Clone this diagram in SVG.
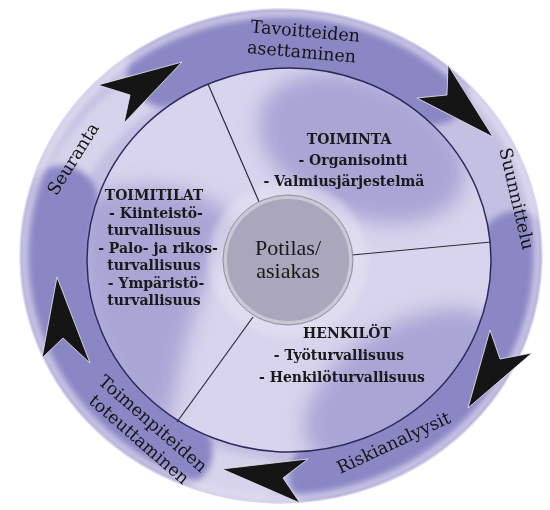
<svg xmlns="http://www.w3.org/2000/svg" width="550" height="510" viewBox="0 0 550 510">
<style>
  .ring-label { font-family: "DejaVu Serif", "Liberation Serif", serif; font-size: 17.5px; fill: #141414; text-anchor: middle; }
  .sector { font-family: "DejaVu Serif", "Liberation Serif", serif; font-size: 14px; font-weight: bold; fill: #1a1a1a; text-anchor: middle; }
  .center-text { font-family: "Liberation Serif", "Times New Roman", serif; font-size: 22px; fill: #1a1a1a; text-anchor: middle; }
  .arrow { fill: #151515; stroke: #ecebf6; stroke-width: 0.8; stroke-linejoin: miter; }
  .spoke { stroke: #2b2b36; stroke-width: 1.2; fill: none; }
  .band { fill: none; stroke: #8b87c5; stroke-width: 72; stroke-linecap: round; }
  .lightband { fill: none; stroke: #d6d3ec; stroke-width: 40; stroke-linecap: round; }
  .blob { fill: #a9a5d5; }
</style>
<defs>
  <clipPath id="ringClip">
    <path clip-rule="evenodd" d="M 20 256 A 261 247 0 1 0 542 256 A 261 247 0 1 0 20 256 Z M 87 260 A 202 192 0 1 0 491 260 A 202 192 0 1 0 87 260 Z"/>
  </clipPath>
  <clipPath id="diskClip">
    <ellipse cx="289" cy="260" rx="202" ry="192"/>
  </clipPath>
  <filter id="soft" x="-40%" y="-40%" width="180%" height="180%">
    <feGaussianBlur stdDeviation="10"/>
  </filter>
  <filter id="soft2" x="-30%" y="-30%" width="160%" height="160%">
    <feGaussianBlur stdDeviation="3"/>
  </filter>
</defs>
<rect width="550" height="510" fill="#ffffff"/>

<g id="wheel">
  <ellipse cx="281" cy="256" rx="261" ry="247" fill="#c4c0e2"/>
  <g clip-path="url(#ringClip)">
    <g filter="url(#soft2)">
      <path class="lightband" d="M 70 170 A 231 220 0 0 1 140 95"/>
      <path class="lightband" d="M 260 478 A 231 220 0 0 1 190 460"/>
      <path class="band" d="M 163 71 A 231 220 0 0 1 434 89"/>
      <path class="band" d="M 62 201 A 231 220 0 0 0 177 452"/>
      <path class="band" d="M 516 247 A 231 220 0 0 1 325 475"/>
    </g>
    <ellipse cx="281" cy="256" rx="257" ry="243" fill="none" stroke="#e6e4f4" stroke-width="8" opacity="0.75" filter="url(#soft2)"/>
  </g>
  <ellipse cx="289" cy="260" rx="202" ry="192" fill="#d8d4ed"/>
  <g clip-path="url(#diskClip)">
    <g filter="url(#soft)">
      <ellipse class="blob" cx="362" cy="148" rx="108" ry="68" transform="rotate(22 362 148)"/>
      <path class="blob" d="M 78 198 C 150 176 212 186 240 228 C 206 266 186 322 168 428 C 118 408 82 332 78 260 Z"/>
      <ellipse class="blob" cx="405" cy="388" rx="112" ry="62" transform="rotate(-32 405 388)"/>
    </g>
    <ellipse cx="288" cy="260" rx="80" ry="78" fill="#e6e3f3" opacity="0.55" filter="url(#soft2)"/>
  </g>
  <ellipse cx="289" cy="260" rx="202" ry="192" fill="none" stroke="#2a2a5c" stroke-width="1.5"/>
  <ellipse cx="281" cy="256" rx="261" ry="247" fill="none" stroke="#d9d7ee" stroke-width="1.5"/>
  <line class="spoke" x1="208" y1="84" x2="260" y2="204"/>
  <line class="spoke" x1="352" y1="255" x2="491" y2="242"/>
  <line class="spoke" x1="253" y1="317" x2="177" y2="422"/>
</g>

<g id="node-center">
  <circle cx="288" cy="260" r="63" fill="#aaa7bc" stroke="#cbc8d6" stroke-width="4"/>
  <circle cx="288" cy="260" r="65" fill="none" stroke="#8f8ca3" stroke-width="1"/>
  <text class="center-text" x="288" y="255">Potilas/</text>
  <text class="center-text" x="288" y="278">asiakas</text>
</g>

<g id="node-toiminta">
  <text class="sector" x="349" y="144">TOIMINTA</text>
  <text class="sector" x="353" y="165">- Organisointi</text>
  <text class="sector" x="344" y="186">- Valmiusjärjestelmä</text>
</g>

<g id="node-toimitilat">
  <text class="sector" x="154" y="200">TOIMITILAT</text>
  <text class="sector" x="156" y="218">- Kiinteistö-</text>
  <text class="sector" x="154" y="235">turvallisuus</text>
  <text class="sector" x="158" y="253">- Palo- ja rikos-</text>
  <text class="sector" x="154" y="270">turvallisuus</text>
  <text class="sector" x="156" y="288">- Ympäristö-</text>
  <text class="sector" x="154" y="305">turvallisuus</text>
</g>

<g id="node-henkilot">
  <text class="sector" x="347" y="338">HENKILÖT</text>
  <text class="sector" x="339" y="360">- Työturvallisuus</text>
  <text class="sector" x="342" y="382">- Henkilöturvallisuus</text>
</g>

<g id="node-tavoitteiden">
  <g transform="rotate(5 304 48)">
    <text class="ring-label" x="304" y="37">Tavoitteiden</text>
    <text class="ring-label" x="302" y="58">asettaminen</text>
  </g>
</g>

<g id="node-suunnittelu">
  <text class="ring-label" transform="translate(511 200) rotate(77)" x="0" y="0">Suunnittelu</text>
</g>

<g id="node-riskianalyysit">
  <text class="ring-label" transform="translate(396 448) rotate(-25)" x="0" y="0">Riskianalyysit</text>
</g>

<g id="node-toimenpiteiden">
  <g transform="translate(149 428) rotate(41)">
    <text class="ring-label" x="0" y="0">Toimenpiteiden</text>
    <text class="ring-label" x="0" y="21">toteuttaminen</text>
  </g>
</g>

<g id="node-seuranta">
  <text class="ring-label" transform="translate(78 162) rotate(-58)" x="0" y="0">Seuranta</text>
</g>

<g id="connectors">
  <polygon class="arrow" points="98,85 182,62 124,123 130,95"/>
  <polygon class="arrow" points="448,65 493,137 417,98 447,95"/>
  <polygon class="arrow" points="490,330 468,408 532,353 500,359"/>
  <polygon class="arrow" points="308,459 222,469 300,503 283,478"/>
  <polygon class="arrow" points="90,363 57,277 42,358 63,338"/>
</g>
</svg>
